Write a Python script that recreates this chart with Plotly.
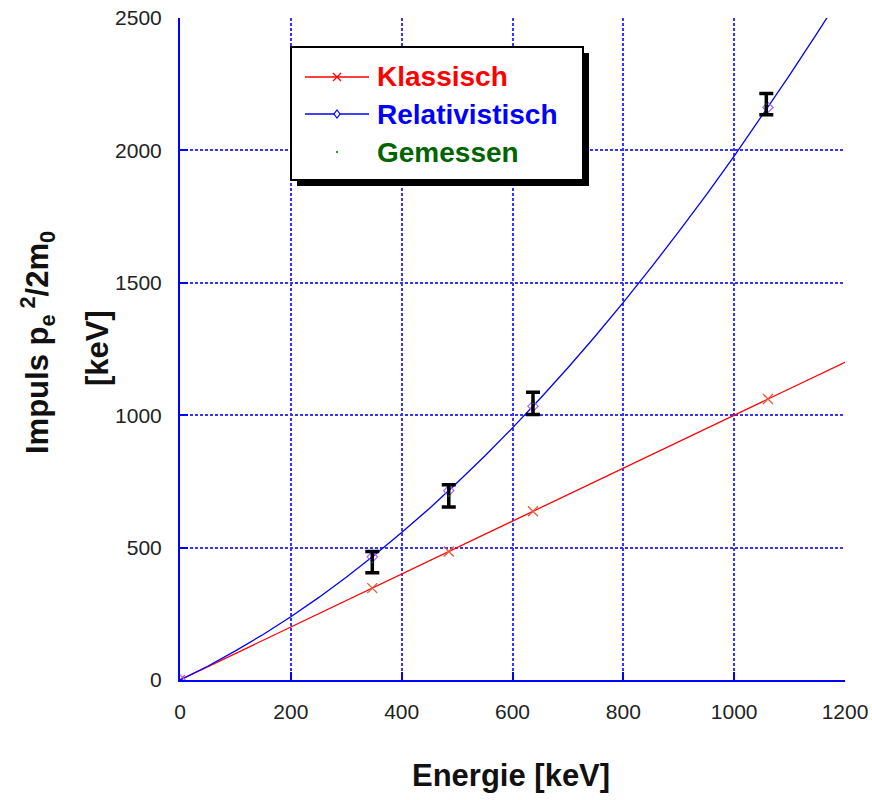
import plotly.graph_objects as go

# ---- data ----
klass_e = [0, 347, 485, 637, 1061, 1200]
klass_p = [0, 347, 485, 637, 1061, 1200]
klass_marker_e = [0, 347, 485, 637, 1061]
klass_marker_p = [0, 347, 485, 637, 1061]

rel_e = [0, 50, 100, 150, 200, 250, 300, 350, 400, 450, 500, 550, 600, 650,
         700, 750, 800, 850, 900, 950, 1000, 1050, 1100, 1150, 1170]
rel_p = [0, 52, 110, 172, 239, 311, 388, 470, 557, 648, 745, 846, 952, 1063,
         1179, 1300, 1426, 1557, 1693, 1833, 1978, 2129, 2284, 2444, 2509]
rel_marker_e = [0, 347, 485, 637, 1061]
rel_marker_p = [0, 465, 715, 1034, 2162]

mess_e = [347, 485, 637, 1058]
mess_p = [445, 695, 1045, 2175]
mess_err = [40, 42, 42, 40]

legend_names = ["Klassisch", "Relativistisch", "Gemessen"]
legend_colors = ["#ff0000", "#0000ff", "#006400"]

x_ticks = [0, 200, 400, 600, 800, 1000, 1200]
y_ticks = [0, 500, 1000, 1500, 2000, 2500]

BLUE = "#0000ff"
RED = "#ff0000"
GREEN = "#006400"
GRID = "#3535ff"
FONT = "Liberation Sans, Arial, sans-serif"

fig = go.Figure()

fig.add_trace(go.Scatter(x=klass_e, y=klass_p, mode="lines",
                         line=dict(color=RED, width=1.3), showlegend=False))
fig.add_trace(go.Scatter(x=klass_marker_e, y=klass_marker_p, mode="markers",
                         marker=dict(symbol="x-thin-open", size=10,
                                     line=dict(color=RED, width=1.3)),
                         showlegend=False))
fig.add_trace(go.Scatter(x=rel_e, y=rel_p, mode="lines",
                         line=dict(color=BLUE, width=1.3), showlegend=False))
fig.add_trace(go.Scatter(x=rel_marker_e, y=rel_marker_p, mode="markers",
                         marker=dict(symbol="diamond-open", size=8,
                                     line=dict(color=BLUE, width=1.2)),
                         showlegend=False))
fig.add_trace(go.Scatter(x=mess_e, y=mess_p, mode="markers",
                         marker=dict(size=2, color=GREEN),
                         error_y=dict(type="data", array=mess_err, visible=True,
                                      color="black", thickness=3.5, width=7),
                         showlegend=False))

# ---- pixel -> paper helpers (plot area: x 180..845, y 18..680) ----
PW, PH = 665.0, 662.0
def px(xp):
    return (xp - 180) / PW
def py(yp):
    return (680 - yp) / PH

# ---- manual legend ----
L, R, T, B = 291, 583, 47, 180
fig.add_shape(type="rect", xref="paper", yref="paper",
              x0=px(L + 6), x1=px(R + 6), y0=py(T + 6), y1=py(B + 6),
              fillcolor="black", line=dict(width=0), layer="above")
fig.add_shape(type="rect", xref="paper", yref="paper",
              x0=px(L), x1=px(R), y0=py(T), y1=py(B),
              fillcolor="white", line=dict(color="black", width=2), layer="above")
rows_y = [77, 114, 152]
mx = 337
for i, (nm, col) in enumerate(zip(legend_names, legend_colors)):
    yy = rows_y[i]
    if i < 2:
        fig.add_shape(type="line", xref="paper", yref="paper",
                      x0=px(305), x1=px(369), y0=py(yy), y1=py(yy),
                      line=dict(color=col, width=1.3), layer="above")
    fig.add_annotation(xref="paper", yref="paper", x=px(375), y=py(yy),
                       text="<b>%s</b>" % nm,
                       showarrow=False, xanchor="left", yanchor="middle",
                       font=dict(family=FONT, size=28, color=col))
# legend glyphs
s = 4
y0 = rows_y[0]
fig.add_shape(type="line", xref="paper", yref="paper",
              x0=px(mx - s), x1=px(mx + s), y0=py(y0 - s), y1=py(y0 + s),
              line=dict(color=RED, width=1.3), layer="above")
fig.add_shape(type="line", xref="paper", yref="paper",
              x0=px(mx - s), x1=px(mx + s), y0=py(y0 + s), y1=py(y0 - s),
              line=dict(color=RED, width=1.3), layer="above")
y1 = rows_y[1]
d = 4
fig.add_shape(type="path", xref="paper", yref="paper",
              path="M %f,%f L %f,%f L %f,%f L %f,%f Z" % (
                  px(mx), py(y1 - d), px(mx + d * 0.75), py(y1),
                  px(mx), py(y1 + d), px(mx - d * 0.75), py(y1)),
              fillcolor="white", line=dict(color=BLUE, width=1.2), layer="above")
y2 = rows_y[2]
fig.add_shape(type="circle", xref="paper", yref="paper",
              x0=px(mx - 1), x1=px(mx + 1), y0=py(y2 + 1), y1=py(y2 - 1),
              fillcolor=GREEN, line=dict(width=0), layer="above")

# ---- axis titles ----
fig.add_annotation(xref="paper", yref="paper", x=px(511), y=py(775),
                   text="<b>Energie [keV]</b>", showarrow=False,
                   font=dict(family=FONT, size=31, color="#111"),
                   xanchor="center", yanchor="middle")
fig.add_annotation(xref="paper", yref="paper", x=px(37), y=py(343),
                   text="<b>Impuls p<sub>e</sub><sup> 2</sup>/2m<sub>0</sub></b>",
                   showarrow=False, textangle=-90,
                   font=dict(family=FONT, size=31, color="#111"),
                   xanchor="center", yanchor="middle")
fig.add_annotation(xref="paper", yref="paper", x=px(97), y=py(348),
                   text="<b>[keV]</b>", showarrow=False, textangle=-90,
                   font=dict(family=FONT, size=31, color="#111"),
                   xanchor="center", yanchor="middle")

axis_common = dict(showline=True, linecolor=BLUE, linewidth=2,
                   showgrid=True, gridcolor=GRID, gridwidth=2, griddash="3px,2px",
                   ticks="inside", ticklen=8, tickcolor=BLUE, tickwidth=2,
                   zeroline=False, automargin=False,
                   tickfont=dict(family=FONT, size=21, color="#222"))

fig.update_layout(
    width=872, height=800,
    margin=dict(l=180, r=27, t=18, b=120),
    paper_bgcolor="white", plot_bgcolor="white",
    showlegend=False,
    xaxis=dict(range=[0, 1200], tickvals=x_ticks, ticklabelstandoff=12, **axis_common),
    yaxis=dict(range=[0, 2500], tickvals=y_ticks, ticklabelstandoff=12, **axis_common),
)

fig.write_html("out.html")
